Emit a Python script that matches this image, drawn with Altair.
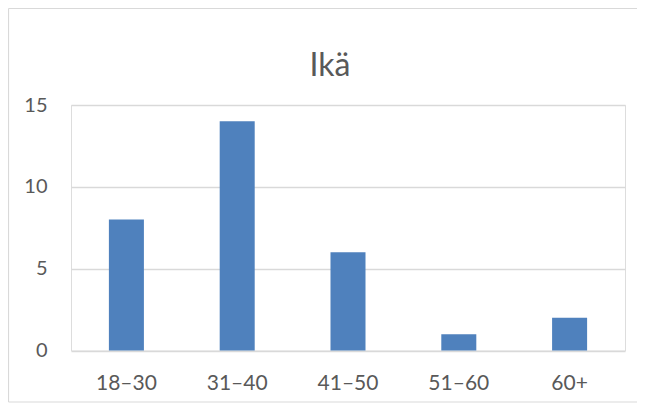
import altair as alt
import pandas as pd

categories = ["18–30", "31–40", "41–50", "51–60", "60+"]
values = [8, 14, 6, 1, 2]
y_ticks = [0, 5, 10, 15]
title_text = ["Ikä"]

df = pd.DataFrame({"cat": categories, "val": values})
one_df = pd.DataFrame({"b": [0]})
title_df = pd.DataFrame({"t": title_text})

FONT = "Lato"
TXT = "#595959"
GRID = "#d9d9d9"

W = 554
H = 245.5

bars = alt.Chart(df).mark_bar(color="#4F81BD").encode(
    x=alt.X(
        "cat:N",
        sort=categories,
        title=None,
        scale=alt.Scale(paddingInner=0.684, paddingOuter=0.342),
        axis=alt.Axis(
            labelAngle=0, labelFontSize=21, labelColor=TXT, labelFont=FONT,
            ticks=False, domain=False, labelPadding=22, grid=False,
        ),
    ),
    y=alt.Y(
        "val:Q",
        title=None,
        scale=alt.Scale(domain=[0, 15], nice=False),
        axis=alt.Axis(
            values=y_ticks, labelFontSize=20, labelColor=TXT, labelFont=FONT,
            ticks=False, domain=False, labelPadding=24,
            grid=True, gridColor=GRID, gridWidth=1.5,
        ),
    ),
)

L, T, B, R = -62.5, -96.5, H + 51.5, W + 12
border_top = alt.Chart(one_df).mark_rule(stroke=GRID, strokeWidth=1.2).encode(
    x=alt.value(L), x2=alt.value(R), y=alt.value(T)
)
border_bottom = alt.Chart(one_df).mark_rule(stroke=GRID, strokeWidth=1.2).encode(
    x=alt.value(L), x2=alt.value(R), y=alt.value(B)
)
border_left = alt.Chart(one_df).mark_rule(stroke=GRID, strokeWidth=1.2).encode(
    x=alt.value(L), y=alt.value(T), y2=alt.value(B)
)

title = alt.Chart(title_df).mark_text(
    font=FONT, fontSize=32, color=TXT, baseline="alphabetic", align="center"
).encode(
    text="t:N",
    x=alt.value(W / 2 - 18),
    y=alt.value(-29),
)

chart = alt.layer(border_top, border_bottom, border_left, bars, title).properties(
    width=W,
    height=H,
    autosize=alt.AutoSizeParams(type="none"),
    padding={"left": 63, "top": 97, "right": 12, "bottom": 53},
).configure_view(stroke=None).configure(background="white")

chart.save("out.html", embed_options={"renderer": "svg", "actions": False})
